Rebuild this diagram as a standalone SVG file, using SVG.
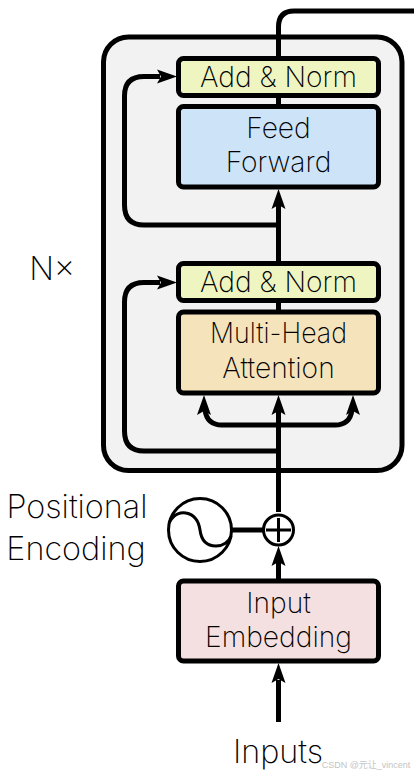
<svg xmlns="http://www.w3.org/2000/svg" width="414" height="776" viewBox="0 0 414 776">
<style>
text{font-family:"Inter","Liberation Sans",sans-serif;font-weight:250;font-size:28.2px;fill:#000;text-anchor:middle}
.b{stroke:#000;stroke-width:5;stroke-linejoin:round}
.c{fill:none;stroke:#000;stroke-width:5}
.t{fill:none;stroke:#000;stroke-width:3}
.h{fill:#000;stroke:none}
.l{font-size:32.400px}
</style>
<defs>
<path id="up" class="h" d="M0 0L7 20L0 16L-7 20Z"/>
<path id="right" class="h" d="M0 0L-20 -7L-16 0L-20 7Z"/>
</defs>
<rect id="bg" width="414" height="776" fill="#fff"/>
<g id="encoder"><rect x="103.500" y="37" width="298.500" height="433.500" rx="25" fill="#f2f2f2" class="b"/></g>
<g id="connectors">
<path class="c" d="M414 11H294Q278.500 11 278.500 27V60"/>
<path class="c" d="M278.500 94V108"/>
<path class="c" d="M278.500 205V265"/>
<path class="c" d="M278.500 225H144Q124.500 225 124.500 205V96Q124.500 76.500 144 76.500H160"/>
<use href="#right" x="177" y="76.500"/>
<path class="c" d="M278.500 299V313"/>
<path class="c" d="M278.500 410V512"/>
<path class="c" d="M278.500 451H144Q124.500 451 124.500 431V302Q124.500 282.500 144 282.500H160"/>
<use href="#right" x="177" y="282.500"/>
<path class="c" d="M205 410Q207 425 222 425H335Q350 425 352 410"/>
<use href="#up" x="278.500" y="189"/>
<use href="#up" x="278.500" y="395"/>
<use href="#up" x="204" y="395"/>
<use href="#up" x="353" y="395"/>
<path class="c" d="M232 530H263"/>
<path class="c" d="M278.500 560V582"/>
<use href="#up" x="278.500" y="546"/>
<path class="c" d="M278.500 722V680"/>
<use href="#up" x="278.500" y="663"/>
</g>
<g id="add-norm-2"><rect x="178.500" y="58.500" width="200" height="37" rx="5" fill="#eff5c1" class="b"/><text x="278.500" y="87">Add &amp; Norm</text></g>
<g id="feed-forward"><rect x="178.500" y="106.500" width="200" height="80.500" rx="5" fill="#cde4f8" class="b"/><text x="278.500" y="138">Feed</text><text x="278.500" y="172">Forward</text></g>
<g id="add-norm-1"><rect x="178.500" y="263.500" width="200" height="37" rx="5" fill="#eff5c1" class="b"/><text x="278.500" y="292">Add &amp; Norm</text></g>
<g id="multi-head"><rect x="178.500" y="312" width="200" height="81" rx="5" fill="#f5e3bb" class="b"/><text x="278.500" y="343" textLength="137" lengthAdjust="spacingAndGlyphs">Multi-Head</text><text x="278.500" y="378">Attention</text></g>
<g id="input-embedding"><rect x="178.500" y="581" width="200" height="80" rx="5" fill="#f5e0e1" class="b"/><text x="278.500" y="613">Input</text><text x="278.500" y="647">Embedding</text></g>
<g id="sine"><circle cx="200" cy="530" r="31.500" fill="#fff" class="t"/><path class="t" d="M169 523C174 513 182 512 186 513C196 515 199 523 200 530C201 538 205 546 216 546C223 546 229 542 231 536"/></g>
<g id="add"><circle cx="278.500" cy="530" r="15" fill="#fff" class="t"/><path class="t" d="M266 530H291M278.500 518V542"/></g>
<text x="77" y="518" class="l">Positional</text>
<text x="76" y="560" class="l">Encoding</text>
<text x="52" y="280" class="l">N×</text>
<text x="278" y="763" class="l">Inputs</text>
<text x="366" y="768" style="font-size:9px;font-family:'Liberation Sans','Noto Sans CJK SC',sans-serif;font-weight:400;fill:#c4c4c4">CSDN @元让_vincent</text>
</svg>
